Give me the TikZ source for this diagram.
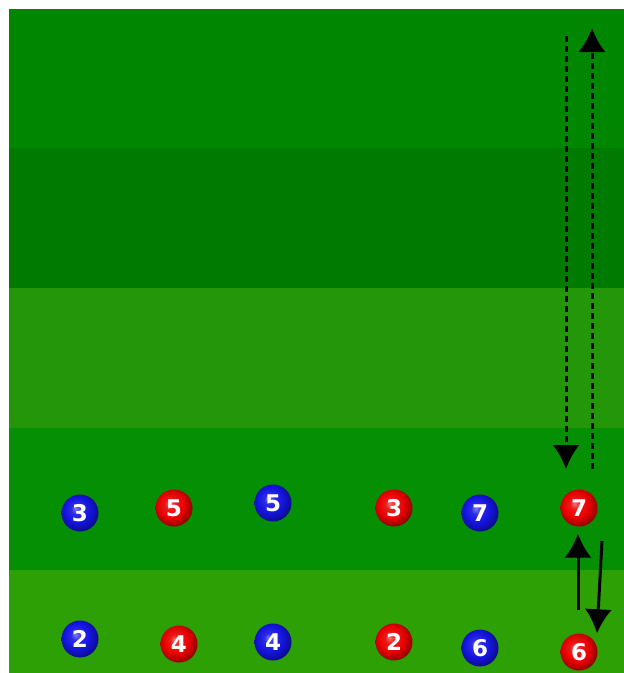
\documentclass[tikz,border=0pt]{standalone}
\usepackage{fontspec}
\newfontfamily\numfont{DejaVu Sans}
\usetikzlibrary{arrows.meta}

\definecolor{grassA}{RGB}{0,134,0}
\definecolor{grassB}{RGB}{0,122,0}
\definecolor{grassC}{RGB}{35,150,10}
\definecolor{grassD}{RGB}{5,143,5}
\definecolor{grassE}{RGB}{45,160,5}
\definecolor{redball}{RGB}{235,0,0}
\definecolor{blueball}{RGB}{20,20,225}

\pgfdeclareradialshading{redshine}{\pgfpoint{-6bp}{6bp}}{color(0bp)=(redball!55!white); color(7bp)=(redball!90!white); color(17bp)=(redball); color(25bp)=(redball!72!black); color(31bp)=(redball!45!black); color(50bp)=(black)}
\pgfdeclareradialshading{blueshine}{\pgfpoint{-6bp}{6bp}}{color(0bp)=(blueball!55!white); color(7bp)=(blueball!90!white); color(17bp)=(blueball); color(25bp)=(blueball!72!black); color(31bp)=(blueball!45!black); color(50bp)=(black)}

\tikzset{
	player/.style = {circle, minimum size = 37pt, inner sep = 0pt, text = white,
		font = \numfont\bfseries\fontsize{23}{23}\selectfont},
	redplayer/.style = {player, shading = redshine},
	blueplayer/.style = {player, shading = blueshine},
	run/.style = {line width = 3pt, -{Latex[length = 24pt, width = 27pt]}},
	dashrun/.style = {run, dash pattern = on 6pt off 4pt}
}

\begin{document}
\begin{tikzpicture}[x = 1pt, y = -1pt]

	\useasboundingbox (0, 0) rectangle (624, 673);
	\fill [white] (0, 0) rectangle (624, 673);

	% Stripes

	\foreach \top/\bot/\col in {9/148/grassA, 148/288/grassB, 288/428/grassC, 428/570/grassD, 570/673/grassE}
		\fill [\col] (9, \top) rectangle (624, \bot);

	% Front row

	\node [blueplayer] (b3) at (80, 513) {3};
	\node [redplayer] (r5) at (174, 508) {5};
	\node [blueplayer] (b5) at (273, 503) {5};
	\node [redplayer] (r3) at (394, 508) {3};
	\node [blueplayer] (b7) at (480, 513) {7};
	\node [redplayer] (r7) at (579, 508) {7};

	% Back row

	\node [blueplayer] (b2) at (80, 639) {2};
	\node [redplayer] (r4) at (179, 644) {4};
	\node [blueplayer] (b4) at (273, 642) {4};
	\node [redplayer] (r2) at (394, 642) {2};
	\node [blueplayer] (b6) at (480, 648) {6};
	\node [redplayer] (r6) at (579, 652) {6};

	% Runs

	\coordinate (downstart) at (566, 36);
	\coordinate (downend) at (566, 469);
	\coordinate (upstart) at (592, 469);
	\coordinate (upend) at (592, 28);
	\coordinate (backstart) at (602, 541);

	\draw [dashrun] (downstart) -- (downend);
	\draw [dashrun] (upstart) -- (upend);

	\draw [run, shorten <= 23pt, shorten >= 7pt] (r6.north -| 578, 0) -- (r7.south -| 578, 0);
	\draw [run] (backstart) -- (r6.north -| 597, 0);

\end{tikzpicture}
\end{document}
